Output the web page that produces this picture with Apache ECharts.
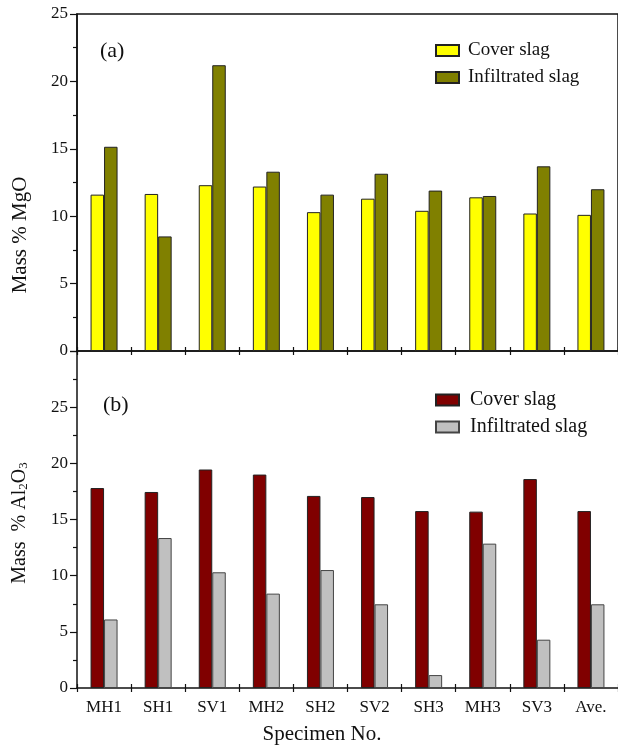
<!DOCTYPE html>
<html><head><meta charset="utf-8">
<script src="https://cdn.jsdelivr.net/npm/echarts@6/dist/echarts.min.js"></script>
<style>html,body{margin:0;padding:0;background:#fff}#c{width:618px;height:746px}</style>
</head><body><div id="c"></div>
<script>
const categories = ['MH1','SH1','SV1','MH2','SH2','SV2','SH3','MH3','SV3','Ave.'];
const mgoCover = [11.6, 11.65, 12.3, 12.2, 10.3, 11.3, 10.4, 11.4, 10.2, 10.1];
const mgoInfiltrated = [15.15, 8.5, 21.2, 13.3, 11.6, 13.15, 11.9, 11.5, 13.7, 12.0];
const al2o3Cover = [17.8, 17.45, 19.45, 19.0, 17.1, 17.0, 15.75, 15.7, 18.6, 15.75];
const al2o3Infiltrated = [6.1, 13.35, 10.3, 8.4, 10.5, 7.45, 1.15, 12.85, 4.3, 7.45];
const mgoAxis = {min: 0, max: 25, interval: 5};
const al2o3Axis = {min: 0, max: 30, interval: 5};

const FF = "'Liberation Serif', 'Times New Roman', serif";
const INK = '#111';
const chart = echarts.init(document.getElementById('c'), null, {renderer: 'canvas'});

function mainX(grid, showLabel) {
  return {
    type: 'category', gridIndex: grid, data: categories, position: 'bottom',
    axisLine: {show: true, lineStyle: {color: INK, width: 1.5}},
    axisTick: {show: true, inside: false, length: 4, lineStyle: {color: INK, width: 1.2}},
    axisLabel: {show: showLabel, fontFamily: FF, fontSize: 17, color: INK, margin: 11},
    splitLine: {show: false}
  };
}
function overlayX(grid) {
  return {
    type: 'category', gridIndex: grid, data: categories, position: 'bottom',
    axisLine: {show: false},
    axisTick: {show: true, inside: true, length: 4, lineStyle: {color: INK, width: 1.2}},
    axisLabel: {show: false}, splitLine: {show: false}
  };
}
function valY(grid, ax, hideTop) {
  return {
    type: 'value', gridIndex: grid, min: ax.min, max: ax.max, interval: ax.interval,
    axisLine: {show: true, lineStyle: {color: INK, width: 1.5}},
    axisTick: {show: true, inside: false, length: 7, lineStyle: {color: INK, width: 1.2}},
    minorTick: {show: true, splitNumber: 2, length: 4, lineStyle: {color: INK, width: 1.2}},
    splitLine: {show: false}, minorSplitLine: {show: false},
    axisLabel: {fontFamily: FF, fontSize: 17, color: INK, margin: 9,
      formatter: v => (hideTop && v === ax.max) ? '' : String(v)}
  };
}
const border = {borderColor: '#222', borderWidth: 1};

const option = {
  animation: false,
  backgroundColor: '#fff',
  grid: [
    {left: 77, top: 14, width: 544, height: 337, show: true, borderColor: INK, borderWidth: 1.5, backgroundColor: 'transparent'},
    {left: 77, top: 351, width: 544, height: 337, show: false}
  ],
  xAxis: [mainX(0, false), overlayX(0), mainX(1, true), overlayX(1)],
  yAxis: [valY(0, mgoAxis, false), valY(1, al2o3Axis, true)],
  legend: [
    {data: ['Cover slag', 'Infiltrated slag'], orient: 'vertical', left: 435, top: 41, padding: 0,
     icon: 'rect', itemWidth: 23, itemHeight: 11, itemGap: 8, selectedMode: false,
     textStyle: {fontFamily: FF, fontSize: 19, color: INK, padding: [0, 0, 0, 4]}},
    {data: ['Cover slag (b)', 'Infiltrated slag (b)'], orient: 'vertical', left: 435, top: 390, padding: 0,
     icon: 'rect', itemWidth: 23, itemHeight: 11, itemGap: 7, selectedMode: false,
     formatter: n => n.replace(' (b)', ''),
     textStyle: {fontFamily: FF, fontSize: 20, color: INK, padding: [0, 0, 0, 6]}}
  ],
  series: [
    {type: 'bar', name: 'Cover slag', xAxisIndex: 0, yAxisIndex: 0, data: mgoCover,
     barWidth: 13.5, barGap: '0%', itemStyle: Object.assign({color: '#FFFF00'}, border)},
    {type: 'bar', name: 'Infiltrated slag', xAxisIndex: 0, yAxisIndex: 0, data: mgoInfiltrated,
     barWidth: 13.5, barGap: '0%', itemStyle: Object.assign({color: '#808000'}, border)},
    {type: 'bar', name: 'Cover slag (b)', xAxisIndex: 2, yAxisIndex: 1, data: al2o3Cover,
     barWidth: 13.5, barGap: '0%', itemStyle: Object.assign({color: '#800000'}, border)},
    {type: 'bar', name: 'Infiltrated slag (b)', xAxisIndex: 2, yAxisIndex: 1, data: al2o3Infiltrated,
     barWidth: 13.5, barGap: '0%', itemStyle: {color: '#C0C0C0', borderColor: '#444', borderWidth: 1}}
  ],
  graphic: [
    {type: 'text', x: 100, y: 51, style: {text: '(a)', fontFamily: FF, fontSize: 22, fill: INK, verticalAlign: 'middle'}},
    {type: 'text', x: 103, y: 405, style: {text: '(b)', fontFamily: FF, fontSize: 22, fill: INK, verticalAlign: 'middle'}},
    {type: 'text', x: 20, y: 235, rotation: Math.PI / 2,
     style: {text: 'Mass % MgO', fontFamily: FF, fontSize: 21, fill: INK, align: 'center', verticalAlign: 'middle'}},
    {type: 'text', x: 20, y: 523, rotation: Math.PI / 2,
     style: {text: 'Mass  % Al{sub|2}O{sub|3}', fontFamily: FF, fontSize: 20, fill: INK, align: 'center', verticalAlign: 'middle',
       rich: {sub: {fontFamily: FF, fontSize: 13, fill: INK, verticalAlign: 'bottom'}}}},
    {type: 'text', x: 322, y: 734,
     style: {text: 'Specimen No.', fontFamily: FF, fontSize: 21, fill: INK, align: 'center', verticalAlign: 'middle'}}
  ]
};
chart.setOption(option);
</script></body></html>
